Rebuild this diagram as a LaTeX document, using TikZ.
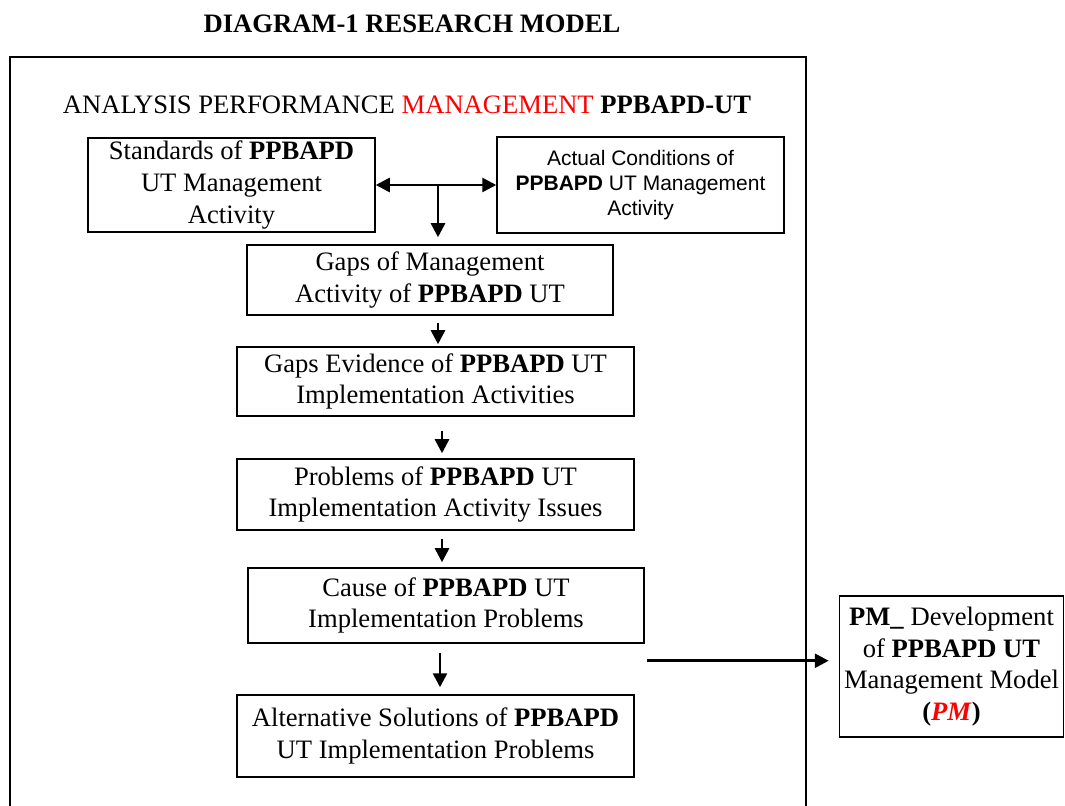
\documentclass[tikz,border=0pt]{standalone}
\usepackage{fontspec}
\setmainfont{Liberation Serif}
\newfontfamily\arialfont{Liberation Sans}
\usepackage{xcolor}
\usepackage{tikz}
\usetikzlibrary{arrows.meta,positioning,calc}
\definecolor{HeadRed}{HTML}{FF0000}
\tikzset{
  stagebox/.style={draw,line width=0.75pt,align=center,inner sep=0pt,
              font=\fontsize{13.3}{15.8}\selectfont},
  sansbox/.style={draw,line width=0.75pt,align=center,inner sep=0pt,
              font=\arialfont\fontsize{10.5}{12.5}\selectfont},
  flow/.style={-{Triangle[length=7pt,width=7pt]},line width=1.3pt},
  bothflow/.style={{Triangle[length=7pt,width=7pt]}-{Triangle[length=7pt,width=7pt]},line width=1.3pt},
  headline/.style={font=\fontsize{13.3}{15.8}\selectfont}
}

\begin{document}
\begin{tikzpicture}[x=0.5pt,y=-0.5pt]
  \useasboundingbox (0,0) rectangle (1065,806);
  \node[headline,font=\bfseries\fontsize{13.3}{15.8}\selectfont] (title) at (412,24) {DIAGRAM-1 RESEARCH MODEL};
  \draw[line width=1pt] (10,806) |- (806,57) -- (806,806);
  \node[headline] (head) at (407,105) {ANALYSIS PERFORMANCE \textcolor{HeadRed}{MANAGEMENT} \textbf{PPBAPD-UT}};

  \node[stagebox,minimum width=143.5pt,minimum height=47pt] (std) at (231.5,185) {Standards of \textbf{PPBAPD}\\UT Management\\Activity};
  \node[sansbox,minimum width=143.5pt,minimum height=48pt] (act) at (640.5,185) {Actual Conditions of\\\textbf{PPBAPD} UT Management\\Activity};
  \node[stagebox,minimum width=183pt,minimum height=35pt] (gap) at (430,280) {Gaps of Management\\Activity of \textbf{PPBAPD} UT};
  \node[stagebox,minimum width=198.5pt,minimum height=34.5pt] (evid) at (435.5,381.5) {Gaps Evidence of \textbf{PPBAPD} UT\\Implementation Activities};
  \node[stagebox,minimum width=198.5pt,minimum height=35.5pt] (prob) at (435.5,494.5) {Problems of \textbf{PPBAPD} UT\\Implementation Activity Issues};
  \node[stagebox,minimum width=198pt,minimum height=37.5pt] (cause) at (446,605.5) {Cause of \textbf{PPBAPD} UT\\Implementation Problems};
  \node[stagebox,minimum width=198.5pt,minimum height=41pt] (alt) at (435.5,736) {Alternative Solutions of \textbf{PPBAPD}\\UT Implementation Problems};
  \node[stagebox,minimum width=112pt,minimum height=70.5pt] (pm) at (951.5,666.5) {\textbf{PM\_} Development\\of \textbf{PPBAPD UT}\\Management Model\\\textbf{(\textcolor{HeadRed}{\textit{PM}})}};

  \coordinate (split) at ($(std.east)!0.5!(act.west)$);
  \coordinate (exit) at ($(cause.south east)+(2,17)$);

  \draw[bothflow] (std.east) -- (act.west);
  \draw[flow,shorten >=3.5pt] ([xshift=1pt]split) -- ([xshift=1pt]split |- gap.north);
  \draw[flow,shorten <=3.5pt,shorten >=1pt] ([xshift=4pt]gap.south) -- ([xshift=4pt]gap.south |- evid.north);
  \draw[flow,shorten <=7pt,shorten >=2.5pt] ([xshift=3.25pt]evid.south) -- ([xshift=3.25pt]evid.south |- prob.north);
  \draw[flow,shorten <=4pt,shorten >=2.5pt] ([xshift=3.25pt]prob.south) -- ([xshift=3.25pt]prob.south |- cause.north);
  \draw[flow,shorten <=4.5pt,shorten >=3.5pt] ([xshift=-3pt]cause.south) -- ([xshift=-3pt]cause.south |- alt.north);
  \draw[flow,shorten >=5pt] (exit) -- (exit -| pm.west);
\end{tikzpicture}
\end{document}
